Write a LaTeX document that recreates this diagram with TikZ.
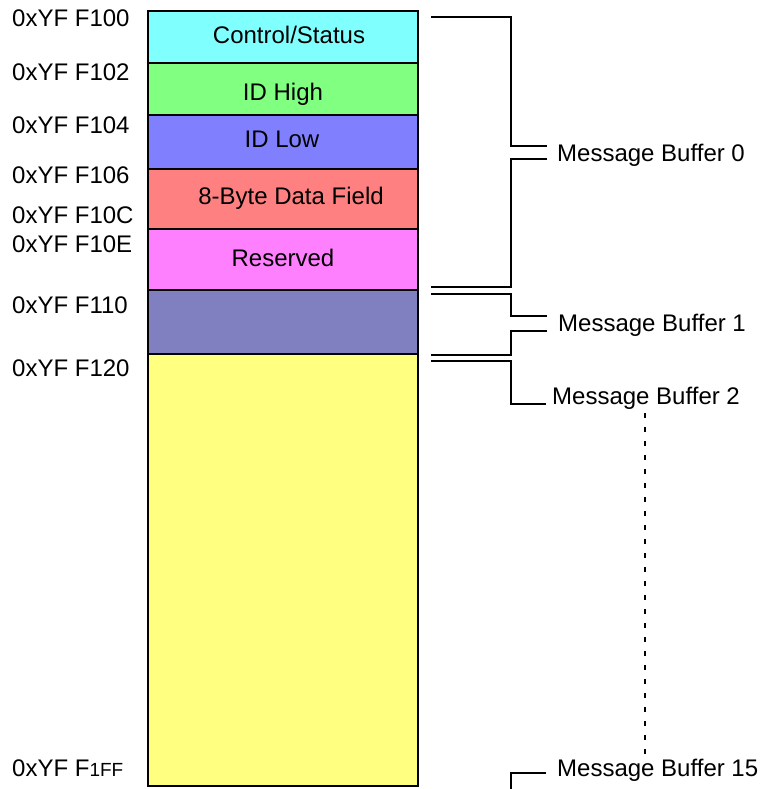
\documentclass[tikz,border=0pt]{standalone}
\usepackage{fontspec}
\setmainfont{Liberation Sans}
\definecolor{cCtl}{HTML}{80FFFF}
\definecolor{cIdh}{HTML}{80FF80}
\definecolor{cIdl}{HTML}{8080FF}
\definecolor{cData}{HTML}{FF8080}
\definecolor{cRes}{HTML}{FF80FF}
\definecolor{cMb1}{HTML}{8080C0}
\definecolor{cMb2}{HTML}{FFFF80}
\begin{document}
\begin{tikzpicture}[x=1pt,y=-1pt,
  every node/.style={font=\fontsize{24}{28}\selectfont, inner sep=0pt},
  field/.style={draw=black, line width=1.3pt},
  addr/.style={anchor=base west},
  ftext/.style={anchor=base},
  mblabel/.style={anchor=base west},
  brk/.style={line width=2.2pt},
  dots/.style={line width=2.2pt, dash pattern=on 5pt off 9pt}]
\useasboundingbox (0,0) rectangle (760,789);

% memory fields
\draw[field, fill=cCtl]  (148,11)  rectangle (418,63);
\draw[field, fill=cIdh]  (148,63)  rectangle (418,115);
\draw[field, fill=cIdl]  (148,115) rectangle (418,169);
\draw[field, fill=cData] (148,169) rectangle (418,229);
\draw[field, fill=cRes]  (148,229) rectangle (418,290);
\draw[field, fill=cMb1]  (148,290) rectangle (418,354);
\draw[field, fill=cMb2]  (148,354) rectangle (418,786);

\node[ftext] (ctl)  at (289,44)  {Control/Status};
\node[ftext] (idh)  at (283,101) {ID High};
\node[ftext] (idl)  at (282,147) {ID Low};
\node[ftext] (data) at (291,204) {8-Byte Data Field};
\node[ftext] (res)  at (283,266) {Reserved};

% addresses
\node[addr] (a100) at (12,27)  {0xYF F100};
\node[addr] (a102) at (12,81)  {0xYF F102};
\node[addr] (a104) at (12,133) {0xYF F104};
\node[addr] (a106) at (12,183) {0xYF F106};
\node[addr] (a10c) at (12,223) {0xYF F10C};
\node[addr] (a10e) at (12,252) {0xYF F10E};
\node[addr] (a110) at (12,313) {0xYF F110};
\node[addr] (a120) at (12,376) {0xYF F120};
\node[addr] (a1ff) at (12,776) {0xYF F{\fontsize{19}{22}\selectfont 1FF}};

% message buffer labels
\node[mblabel] (mb0)  at (557,161) {Message Buffer 0};
\node[mblabel] (mb1)  at (558,331) {Message Buffer 1};
\node[mblabel] (mb2)  at (552,404) {Message Buffer 2};
\node[mblabel] (mb15) at (557,776) {Message Buffer 15};

% bracket coordinates
\coordinate (b0t)  at (431,17);
\coordinate (b0m1) at (547,146);
\coordinate (b0m2) at (547,159);
\coordinate (b0b)  at (431,287);
\coordinate (b1t)  at (431,294);
\coordinate (b1m1) at (547,316);
\coordinate (b1m2) at (547,331);
\coordinate (b1b)  at (431,355);
\coordinate (b2t)  at (431,361);
\coordinate (b2m)  at (546,404);
\coordinate (b15m) at (546,773);
\coordinate (b15b) at (511,789);
\coordinate (dtop) at (645,413);
\coordinate (dbot) at (645,760);

\draw[brk] (b0t) -| (511,146) -- (b0m1);
\draw[brk] (b0m2) -- (511,159) |- (b0b);
\draw[brk] (b1t) -| (511,316) -- (b1m1);
\draw[brk] (b1m2) -- (511,331) |- (b1b);
\draw[brk] (b2t) -| (511,404) -- (b2m);
\draw[brk] (b15m) -| (b15b);
\draw[dots] (dtop) -- (dbot);
\end{tikzpicture}
\end{document}
